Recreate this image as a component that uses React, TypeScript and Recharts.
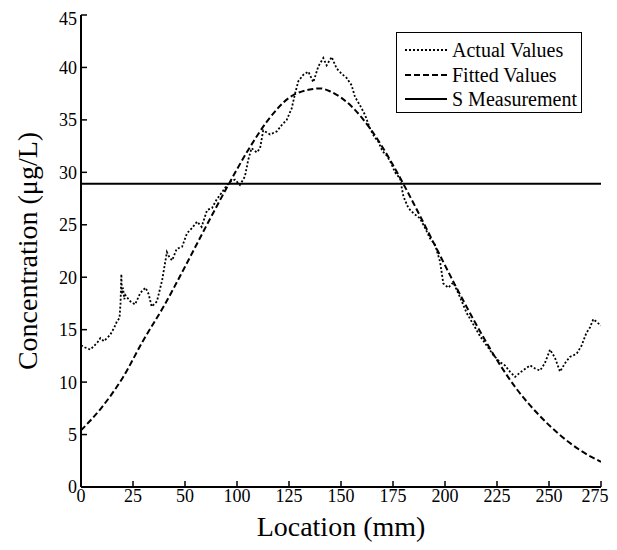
import { LineChart, Line, XAxis, YAxis, ReferenceLine, Label } from 'recharts'

// x positions are along the plotted axis (0..250); the printed tick labels skip "75"
const actualLocation = [
	0, 2, 4.5, 6, 8, 9.3, 11, 12, 14, 16, 17.3, 18.5, 19, 19.4, 19.7, 20.2, 20.8, 21.3, 22.5, 23.7,
	26, 28.5, 31, 32.5, 34, 36.5, 39, 41.3, 42.5, 43.8, 46, 48.6, 51, 53.4, 55.8, 58, 60.6, 63, 65.2, 67.8,
	69.2, 71.6, 74, 76.4, 78.8, 80.4, 82, 84.5, 86.1, 87.6, 90.9, 94.1, 96.5, 98.9, 101.3, 102.9, 104.5, 106.9, 109.3, 111.7,
	114.1, 116.5, 118.1, 120.5, 122.9, 125.3, 127.7, 130.1, 131.7, 134.1, 136.5, 138.9, 141, 143, 145, 147, 149, 151, 153.4, 155,
	157.4, 159.8, 163, 165.4, 167.8, 170.2, 172.6, 174.2, 176.6, 179, 182.2, 185.4, 188.6, 191.8, 195, 198.2, 201.4, 203.8, 206.2, 208.7,
	211, 215.9, 218.3, 220.7, 223, 225.5, 227.9, 230.3, 232.7, 235, 238.3, 240.7, 243, 244.7, 246.3, 248.7, 250,
]
const actualValues = [
	13.5, 13.3, 13.1, 13.4, 13.8, 14.2, 13.9, 14.1, 14.5, 15.2, 15.8, 16.1, 17.5, 20.3, 18.4, 19.0, 17.9, 18.3, 18.0, 17.7,
	17.4, 18.5, 19.0, 18.4, 17.2, 17.7, 19.7, 22.4, 21.9, 21.6, 22.7, 22.9, 24.2, 24.7, 25.3, 24.8, 26.4, 26.6, 27.4, 28.1,
	28.5, 29.1, 29.3, 28.8, 29.6, 31.2, 32.3, 31.9, 32.3, 34.0, 33.6, 33.9, 34.5, 35.0, 36.1, 37.5, 38.7, 39.3, 39.6, 38.6,
	40.1, 40.9, 40.2, 41.0, 39.9, 39.4, 39.0, 38.3, 37.2, 36.4, 35.5, 34.2, 33.4, 32.9, 32.0, 31.6, 30.9, 30.0, 29.4, 27.7,
	26.6, 26.1, 25.6, 24.7, 23.7, 23.1, 21.5, 19.4, 19.0, 19.5, 18.1, 16.6, 15.5, 14.4, 13.5, 12.6, 11.9, 11.6, 11.0, 10.5,
	10.9, 11.6, 11.3, 11.1, 11.8, 13.1, 12.3, 11.0, 11.8, 12.4, 12.7, 13.5, 14.7, 15.2, 16.0, 15.6, 15.4,
]

const fittedLocation = [
	0, 10, 20, 30, 40, 50, 60, 70, 80, 90, 100, 110, 115, 120, 130, 140, 150, 160, 170, 180, 190, 200, 210, 220, 230, 240, 250,
]
const fittedValues = [
	5.4, 7.6, 10.4, 14.0, 17.3, 21.0, 24.8, 28.5, 32.0, 35.0, 37.1, 37.9, 38.0, 37.7, 36.3, 33.9, 30.7, 27.0, 23.1, 19.2, 15.5, 12.1, 9.2, 6.9, 5.0, 3.5, 2.4,
]

const sMeasurement = 28.9

const xTicks = [0, 25, 50, 75, 100, 125, 150, 175, 200, 225, 250]
const xTickLabels = ['0', '25', '50', '100', '125', '150', '175', '200', '225', '250', '275']
const yTicks = [0, 5, 10, 15, 20, 25, 30, 35, 40, 45]

const legendItems = [
	{ name: 'Actual Values', dash: '2 2' },
	{ name: 'Fitted Values', dash: '6 3' },
	{ name: 'S Measurement', dash: undefined },
]

const FONT = "'Times New Roman', 'Liberation Serif', serif"

const actualData = actualLocation.map((x, i) => ({ x, y: actualValues[i] }))
const fittedData = fittedLocation.map((x, i) => ({ x, y: fittedValues[i] }))

// last label nudged left so it stays inside the visible page
const XTick = (props: any) => {
	const { x, y, payload } = props
	const i = xTicks.indexOf(payload.value)
	return (
		<text x={x} y={y} dy={13} dx={i === xTicks.length - 1 ? -6 : 0} textAnchor="middle" fill="#000" fontSize={18} fontFamily={FONT}>
			{xTickLabels[i] ?? ''}
		</text>
	)
}

const LegendBox = () => (
	<div
		style={{
			position: 'absolute',
			left: 388,
			top: 24,
			border: '1.5px solid #000',
			background: '#fff',
			width: 186,
			height: 81,
			boxSizing: 'border-box',
			padding: '5px 0 0 8px',
			fontFamily: FONT,
			fontSize: 20,
			color: '#000',
		}}>
		{legendItems.map((item) => (
			<div key={item.name} style={{ display: 'flex', alignItems: 'center', height: 24.5 }}>
				<svg width={44} height={6} style={{ marginRight: 3 }}>
					<line x1={0} y1={3} x2={42} y2={3} stroke="#000" strokeWidth={2} strokeDasharray={item.dash} />
				</svg>
				<span style={{ lineHeight: 1, whiteSpace: 'nowrap' }}>{item.name}</span>
			</div>
		))}
	</div>
)

export default function App() {
	const tickStyle = { fill: '#000', fontSize: 18, fontFamily: FONT }
	return (
		<div style={{ position: 'relative', width: 609, height: 534 }}>
			<style>{'body{overflow:hidden} .recharts-wrapper svg{overflow:visible}'}</style>
			<LineChart
				width={609}
				height={534}
				margin={{ top: 7, right: 16, left: 0, bottom: 0 }}
				style={{ fontFamily: FONT, background: '#fff' }}>
				<XAxis
					xAxisId="bottom"
					dataKey="x"
					type="number"
					domain={[0, 250]}
					ticks={xTicks}
					interval={0}
					allowDataOverflow
					height={55}
					tickSize={-6}
					tickMargin={8}
					tick={<XTick />}
					axisLine={{ stroke: '#000', strokeWidth: 2 }}
					tickLine={{ stroke: '#000', strokeWidth: 1.5 }}>
					<Label value="Location (mm)" position="insideBottom" offset={6} style={{ fontSize: 28, fontFamily: FONT, fill: '#000' }} />
				</XAxis>
				<XAxis
					xAxisId="top"
					orientation="top"
					type="number"
					domain={[0, 250]}
					ticks={xTicks}
					height={0}
					tickSize={-6}
					tick={false}
					axisLine={{ stroke: '#000', strokeWidth: 2 }}
					tickLine={{ stroke: '#000', strokeWidth: 1.5 }}
				/>
				<YAxis
					yAxisId="left"
					type="number"
					domain={[0, 45]}
					ticks={yTicks}
					width={73}
					tickSize={-6}
					tickMargin={10}
					tick={tickStyle}
					allowDataOverflow
					axisLine={{ stroke: '#000', strokeWidth: 2 }}
					tickLine={{ stroke: '#000', strokeWidth: 1.5 }}>
					<Label
						value="Concentration (μg/L)"
						angle={-90}
						position="insideLeft"
						offset={19}
						style={{ fontSize: 28, fontFamily: FONT, fill: '#000', textAnchor: 'middle' }}
					/>
				</YAxis>
				<YAxis
					yAxisId="right"
					orientation="right"
					type="number"
					domain={[0, 45]}
					ticks={yTicks}
					width={0}
					tickSize={-6}
					tick={false}
					allowDataOverflow
					axisLine={{ stroke: '#000', strokeWidth: 2 }}
					tickLine={{ stroke: '#000', strokeWidth: 1.5 }}
				/>
				<ReferenceLine xAxisId="bottom" yAxisId="left" y={sMeasurement} stroke="#000" strokeWidth={2} />
				<Line
					xAxisId="bottom"
					yAxisId="left"
					data={fittedData}
					dataKey="y"
					type="monotone"
					stroke="#000"
					strokeWidth={2}
					strokeDasharray="6 3"
					dot={false}
					isAnimationActive={false}
				/>
				<Line
					xAxisId="bottom"
					yAxisId="left"
					data={actualData}
					dataKey="y"
					type="linear"
					stroke="#000"
					strokeWidth={1.8}
					strokeDasharray="2 2"
					dot={false}
					isAnimationActive={false}
				/>
			</LineChart>
			<LegendBox />
		</div>
	)
}
